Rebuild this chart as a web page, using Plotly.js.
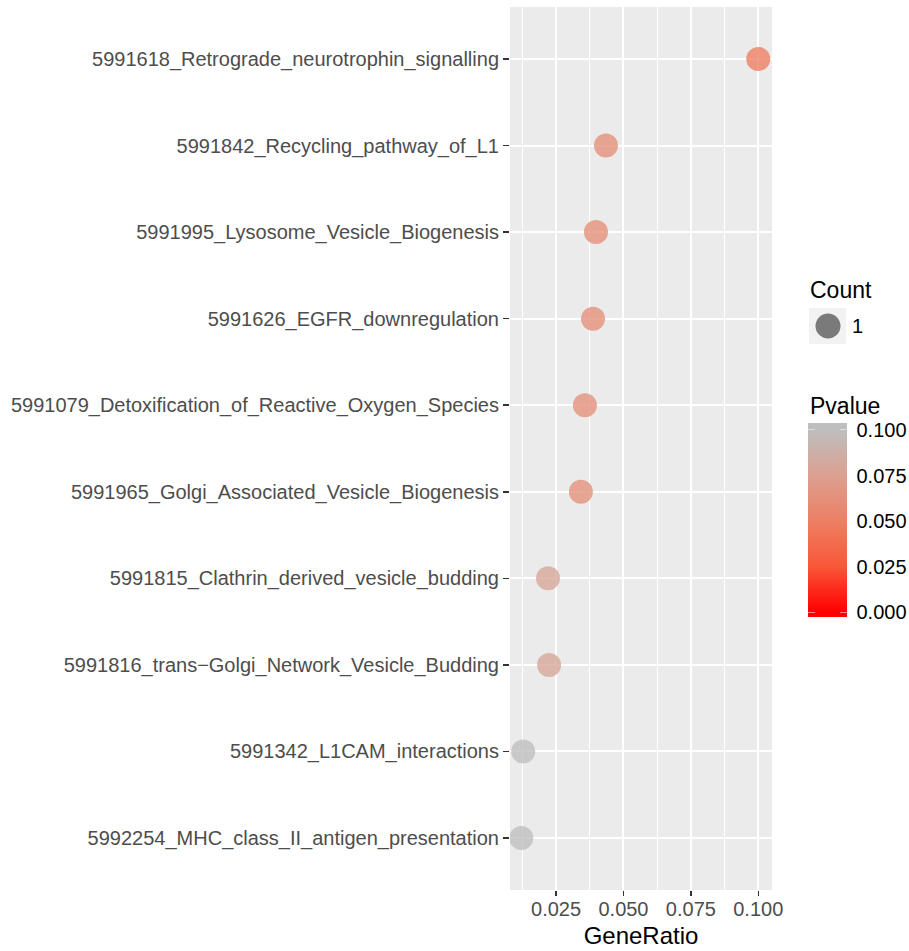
<!DOCTYPE html>
<html>
<head>
<meta charset="utf-8">
<script src="https://cdn.plot.ly/plotly-3.0.1.min.js"></script>
<style>html,body{margin:0;padding:0;background:#fff;}#chart{width:909px;height:951px;}</style>
</head>
<body>
<div id="chart"></div>
<script>
// Pathways, top to bottom
const pathways = [
  "5991618_Retrograde_neurotrophin_signalling",
  "5991842_Recycling_pathway_of_L1",
  "5991995_Lysosome_Vesicle_Biogenesis",
  "5991626_EGFR_downregulation",
  "5991079_Detoxification_of_Reactive_Oxygen_Species",
  "5991965_Golgi_Associated_Vesicle_Biogenesis",
  "5991815_Clathrin_derived_vesicle_budding",
  "5991816_trans\u2212Golgi_Network_Vesicle_Budding",
  "5991342_L1CAM_interactions",
  "5992254_MHC_class_II_antigen_presentation"
];
const geneRatio = [0.100, 0.0435, 0.0398, 0.0387, 0.0357, 0.0342, 0.0220, 0.0224, 0.0128, 0.0121];
const pvalue    = [0.048, 0.061, 0.061, 0.061, 0.062, 0.062, 0.079, 0.079, 0.100, 0.100];
const countVals = [1, 1, 1, 1, 1, 1, 1, 1, 1, 1];
const xTicks = [0.025, 0.050, 0.075, 0.100];
const xMinor = [0.0125, 0.0375, 0.0625, 0.0875];
const pTicks = [0.000, 0.025, 0.050, 0.075, 0.100];

// Lab-like red -> grey gradient
const colorscale = [
  [0, "rgb(255,0,0)"],
  [0.25, "rgb(249,87,56)"],
  [0.5, "rgb(237,127,100)"],
  [0.75, "rgb(219,160,144)"],
  [1, "rgb(190,190,190)"]
];

// plot area in pixels
const W = 909, H = 951, L = 510, R = 137, T = 7, B = 61;
const pw = W - L - R, ph = H - T - B;
const px = v => (v - L) / pw;
const py = v => (H - B - v) / ph;

// colourbar geometry (pixels)
const cbLeft = 808, cbThick = 39, cbTop = 430, cbBot = 612;
const cbY = p => py(cbBot - (cbBot - cbTop) * p / 0.1);

const trace = {
  type: "scatter",
  mode: "markers",
  x: geneRatio,
  y: pathways,
  showlegend: false,
  marker: {
    size: countVals.map(c => 24 * c),
    opacity: 0.78,
    color: pvalue,
    cmin: 0, cmax: 0.1,
    colorscale: colorscale,
    line: {width: 0},
    colorbar: {
      x: px(cbLeft), xanchor: "left", xpad: 0,
      y: py((cbTop + cbBot) / 2), yanchor: "middle", ypad: 0,
      len: cbBot - cbTop, lenmode: "pixels",
      thickness: cbThick, thicknessmode: "pixels",
      outlinewidth: 0,
      tickvals: pTicks,
      ticktext: pTicks.map(v => v.toFixed(3)),
      ticks: "outside", ticklen: 6, tickcolor: "rgba(0,0,0,0)", tickwidth: 1,
      tickfont: {family: "Liberation Sans, Arial, sans-serif", size: 20, color: "#000000"}
    }
  }
};

const shapes = [
  // colourbar end caps
  {type: "rect", xref: "paper", yref: "paper", x0: px(cbLeft), x1: px(cbLeft + cbThick), y0: py(cbTop), y1: py(cbTop - 7),
   fillcolor: "rgb(190,190,190)", line: {width: 0}},
  {type: "rect", xref: "paper", yref: "paper", x0: px(cbLeft), x1: px(cbLeft + cbThick), y0: py(cbBot + 5), y1: py(cbBot),
   fillcolor: "rgb(255,0,0)", line: {width: 0}},
  // Count legend key
  {type: "rect", xref: "paper", yref: "paper", x0: px(809), x1: px(846), y0: py(344), y1: py(308),
   fillcolor: "#F2F2F2", line: {width: 0}},
  {type: "circle", xref: "paper", yref: "paper", x0: px(815.5), x1: px(840.5), y0: py(338.5), y1: py(313.5),
   fillcolor: "#7a7a7a", line: {width: 0}}
];
// white tick marks on both sides of the colour bar
pTicks.forEach(p => {
  shapes.push({type: "line", xref: "paper", yref: "paper", x0: px(cbLeft), x1: px(cbLeft + 7), y0: cbY(p), y1: cbY(p),
               line: {color: "#ffffff", width: 1}});
  shapes.push({type: "line", xref: "paper", yref: "paper", x0: px(cbLeft + cbThick - 7), x1: px(cbLeft + cbThick), y0: cbY(p), y1: cbY(p),
               line: {color: "#ffffff", width: 1}});
});

const layout = {
  width: W, height: H,
  margin: {l: L, r: R, t: T, b: B, autoexpand: false},
  paper_bgcolor: "#ffffff",
  plot_bgcolor: "#EBEBEB",
  font: {family: "Liberation Sans, Arial, sans-serif"},
  xaxis: {
    range: [0.0079, 0.1051],
    tickvals: xTicks,
    ticktext: xTicks.map(v => v.toFixed(3)),
    showgrid: true, gridcolor: "#ffffff", gridwidth: 2,
    minor: {tickvals: xMinor, showgrid: true, gridcolor: "#ffffff", gridwidth: 1, ticks: ""},
    zeroline: false, showline: false,
    ticks: "outside", ticklen: 5, tickwidth: 1.5, tickcolor: "#333333",
    ticklabelstandoff: -4,
    tickfont: {size: 20, color: "#4D4D4D"},
    title: {text: "GeneRatio", font: {size: 24, color: "#000000"}, standoff: 8}
  },
  yaxis: {
    type: "category",
    categoryorder: "array",
    categoryarray: pathways,
    range: [pathways.length - 0.4, -0.6],
    showgrid: true, gridcolor: "#ffffff", gridwidth: 2,
    zeroline: false, showline: false,
    ticks: "outside", ticklen: 6, tickwidth: 1.5, tickcolor: "#333333",
    tickfont: {size: 20, color: "#4D4D4D"}
  },
  shapes: shapes,
  annotations: [
    {text: "Count", xref: "paper", yref: "paper", x: px(808), y: py(290), xanchor: "left", yanchor: "middle",
     showarrow: false, font: {size: 23, color: "#000000"}},
    {text: "1", xref: "paper", yref: "paper", x: px(850), y: py(326), xanchor: "left", yanchor: "middle",
     showarrow: false, font: {size: 20, color: "#000000"}},
    {text: "Pvalue", xref: "paper", yref: "paper", x: px(808), y: py(406), xanchor: "left", yanchor: "middle",
     showarrow: false, font: {size: 23, color: "#000000"}}
  ]
};

Plotly.newPlot("chart", [trace], layout, {staticPlot: true, displayModeBar: false});
</script>
</body>
</html>
